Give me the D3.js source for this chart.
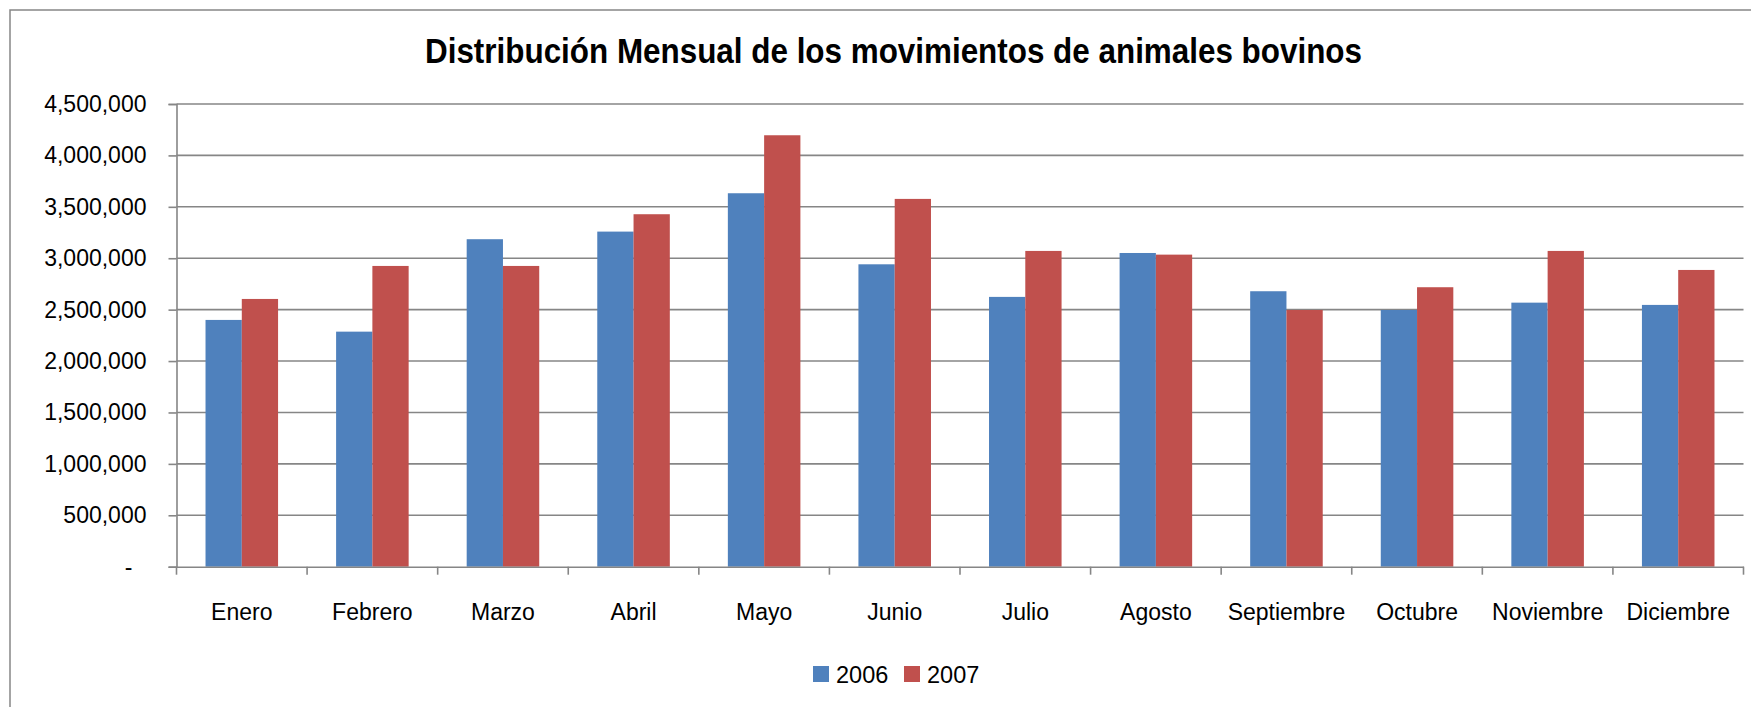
<!DOCTYPE html>
<html>
<head>
<meta charset="utf-8">
<script src="https://cdn.jsdelivr.net/npm/d3@7"></script>
<style>
  html, body { margin: 0; padding: 0; background: #ffffff; }
  svg { display: block; }
  text { font-family: "Liberation Sans", Arial, sans-serif; fill: #000; }
</style>
</head>
<body>
<svg id="chart" width="1751" height="707"></svg>
<script>
const title = "Distribución Mensual de los movimientos de animales bovinos";
const months = ["Enero","Febrero","Marzo","Abril","Mayo","Junio","Julio","Agosto","Septiembre","Octubre","Noviembre","Diciembre"];
const seriesNames = ["2006","2007"];
const values2006 = [2400000,2286000,3185000,3259000,3632000,2941000,2624000,3051000,2679000,2497000,2568000,2546000];
const values2007 = [2604000,2925000,2925000,3428000,4196000,3577000,3071000,3035000,2497000,2718000,3071000,2886000];
const yTicks = [0,500000,1000000,1500000,2000000,2500000,3000000,3500000,4000000,4500000];
const colors = ["#4F81BD","#C0504D"];

const svg = d3.select("#chart");
const W = 1751, H = 707;
const m = {left: 176.5, right: 1743.5, top: 104, bottom: 566.7};

// outer frame
svg.append("rect").attr("x",10).attr("y",10).attr("width",W+20).attr("height",H+20)
  .attr("fill","none").attr("stroke","#868686").attr("stroke-width",1.5);

// title
svg.append("text").attr("x",425).attr("y",63.3)
  .attr("font-size",35).attr("font-weight","bold")
  .attr("textLength",937).attr("lengthAdjust","spacingAndGlyphs")
  .text(title);

const x0 = d3.scaleBand().domain(months).range([m.left, m.right]).paddingInner(0).paddingOuter(0);
const groupW = x0.bandwidth() / 1.8;
const x1 = d3.scaleBand().domain(seriesNames).range([0, groupW]).padding(0);
const y = d3.scaleLinear().domain([0, 4500000]).range([m.bottom, m.top]);

// gridlines
svg.append("g").selectAll("line").data(yTicks.filter(d => d > 0)).join("line")
  .attr("x1", m.left).attr("x2", m.right)
  .attr("y1", d => y(d)).attr("y2", d => y(d))
  .attr("stroke","#868686").attr("stroke-width",1.6);

// bars
const data = months.map((mo,i) => ({month: mo, vals: [values2006[i], values2007[i]]}));
const groups = svg.append("g").selectAll("g").data(data).join("g")
  .attr("transform", d => `translate(${x0(d.month) + (x0.bandwidth()-groupW)/2},0)`);
groups.selectAll("rect").data(d => d.vals.map((v,j) => ({s: seriesNames[j], v, j}))).join("rect")
  .attr("x", d => x1(d.s)).attr("width", x1.bandwidth())
  .attr("y", d => y(d.v)).attr("height", d => y(0) - y(d.v))
  .attr("fill", d => colors[d.j]);

// y axis
const fmt = d3.format(",");
const yAxis = d3.axisLeft(y).tickValues(yTicks).tickSize(8).tickPadding(22)
  .tickFormat(d => d === 0 ? "-" : fmt(d));
const gy = svg.append("g").attr("transform",`translate(${m.left},0)`).call(yAxis);
gy.select(".domain").attr("stroke","#868686").attr("stroke-width",1.6);
gy.selectAll(".tick line").attr("stroke","#868686").attr("stroke-width",1.6);
gy.selectAll(".tick text").attr("font-size",23).attr("fill","#000")
  .attr("font-family","'Liberation Sans', Arial, sans-serif")
  .attr("dx", d => d === 0 ? -14 : 0);

// x axis
const xAxis = d3.axisBottom(x0).tickSize(0).tickPadding(0);
const gx = svg.append("g").attr("transform",`translate(0,${m.bottom})`).call(xAxis);
gx.select(".domain").attr("stroke","#868686").attr("stroke-width",1.6);
gx.selectAll(".tick text").attr("font-size",23).attr("fill","#000")
  .attr("font-family","'Liberation Sans', Arial, sans-serif")
  .attr("y", 53).attr("dy", 0);
// category boundary ticks
const bounds = months.map(mo => x0(mo)).concat([m.right]);
gx.append("g").selectAll("line").data(bounds).join("line")
  .attr("x1", d => d).attr("x2", d => d).attr("y1", 0).attr("y2", 8)
  .attr("stroke","#868686").attr("stroke-width",1.6);

// legend
const lg = svg.append("g");
const legendX = [813, 904];
seriesNames.forEach((s,i) => {
  lg.append("rect").attr("x", legendX[i]).attr("y", 666).attr("width",16).attr("height",16).attr("fill",colors[i]);
  lg.append("text").attr("x", legendX[i] + 23).attr("y", 683).attr("font-size",23.5).text(s);
});
</script>
</body>
</html>
